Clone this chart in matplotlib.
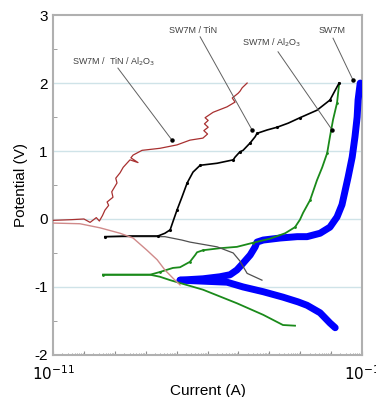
import numpy as np
import matplotlib
matplotlib.use('Agg')
import matplotlib.pyplot as plt
from matplotlib.ticker import LogLocator, NullFormatter, FixedLocator

plt.rcParams['font.family'] = ['Liberation Sans', 'DejaVu Sans']
plt.rcParams['axes.unicode_minus'] = False

# Polarisation curves, current given as log10(I / A), potential in V

# SW7M / TiN / Al2O3 (red)
red_cat_logI = [-11.0, -10.13, -9.48, -8.83, -8.41, -7.96, -7.63, -7.38, -7.12, -6.89]
red_cat_E = [-0.06, -0.07, -0.13, -0.21, -0.28, -0.46, -0.60, -0.75, -0.87, -0.97]
red_an_logI = [-11.0, -10.4, -10.0, -9.8, -9.6, -9.5, -9.4, -9.32, -9.2, -9.25, -9.06, -9.1,
               -8.93, -8.97, -8.83, -8.73, -8.57, -8.51, -8.25, -8.48, -8.41, -8.12, -7.54,
               -6.99, -6.57, -6.15, -6.0, -6.12, -5.98, -6.1, -5.98, -6.08, -5.82, -5.37,
               -5.11, -5.2, -5.01, -4.95, -4.88, -4.72]
red_an_E = [-0.02, -0.01, 0.0, -0.05, 0.02, -0.03, 0.05, 0.13, 0.2, 0.25, 0.32, 0.4,
            0.53, 0.6, 0.68, 0.76, 0.84, 0.87, 0.83, 0.9, 0.94, 1.01, 1.04,
            1.09, 1.16, 1.19, 1.25, 1.3, 1.35, 1.4, 1.45, 1.49, 1.57, 1.65,
            1.72, 1.78, 1.85, 1.88, 1.93, 2.0]

# SW7M / TiN (black)
blk_cat_logI = [-9.32, -8.5, -7.38, -6.83, -6.57, -5.69, -5.17, -4.95, -4.72, -4.24]
blk_cat_E = [-0.26, -0.26, -0.26, -0.31, -0.34, -0.41, -0.50, -0.62, -0.80, -0.90]
blk_an_logI = [-9.32, -8.5, -7.6, -7.38, -7.21, -7.12, -6.99, -6.83, -6.66, -6.47, -6.24,
               -5.69, -5.17, -5.11, -4.95, -4.85, -4.62, -4.46, -4.40, -4.07, -3.75,
               -3.39, -3.01, -2.46, -2.04, -1.78, -1.74]
blk_an_E = [-0.26, -0.25, -0.25, -0.21, -0.16, -0.04, 0.13, 0.32, 0.53, 0.69, 0.79,
            0.82, 0.87, 0.91, 0.99, 1.01, 1.12, 1.21, 1.26, 1.31, 1.35,
            1.41, 1.49, 1.60, 1.75, 1.97, 2.0]

# SW7M / Al2O3 (green)
grn_cat_logI = [-9.38, -8.5, -7.86, -7.54, -7.21, -6.15, -5.05, -4.20, -3.56, -3.17]
grn_cat_E = [-0.82, -0.82, -0.82, -0.85, -0.90, -1.04, -1.24, -1.41, -1.56, -1.57]
grn_an_logI = [-9.38, -8.5, -7.86, -7.54, -7.12, -6.89, -6.57, -6.40, -6.34, -6.15, -5.60,
               -5.05, -4.53, -3.98, -3.49, -3.17, -3.01, -2.91, -2.68, -2.46, -2.29,
               -2.13, -2.04, -1.94, -1.81, -1.74]
grn_an_E = [-0.82, -0.82, -0.82, -0.78, -0.72, -0.71, -0.63, -0.53, -0.49, -0.46, -0.43,
            -0.41, -0.35, -0.29, -0.21, -0.12, -0.01, 0.09, 0.28, 0.57, 0.76,
            0.97, 1.21, 1.46, 1.71, 2.0]

# SW7M (blue)
blu_cat_logI = [-6.89, -5.37, -4.85, -4.20, -3.56, -3.07, -2.78, -2.36, -2.04, -1.87]
blu_cat_E = [-0.90, -0.93, -1.00, -1.07, -1.15, -1.22, -1.27, -1.38, -1.53, -1.60]
blu_an_logI = [-6.89, -6.15, -5.60, -5.27, -5.05, -4.85, -4.62, -4.46, -4.40, -4.20, -3.65,
               -3.10, -2.78, -2.36, -2.04, -1.81, -1.65, -1.45, -1.32, -1.23, -1.16,
               -1.13, -1.06]
blu_an_E = [-0.90, -0.88, -0.85, -0.82, -0.75, -0.65, -0.53, -0.41, -0.34, -0.31, -0.28,
            -0.26, -0.26, -0.21, -0.12, 0.03, 0.21, 0.62, 0.91, 1.21, 1.50,
            1.75, 2.0]

# labels: text, text position (logI, E), arrow start and tip (logI, E)
labels = ['SW7M /  TiN / Al$_2$O$_3$', 'SW7M / TiN', 'SW7M / Al$_2$O$_3$', 'SW7M']
label_xy = [(-9.03, 2.31), (-6.47, 2.78), (-3.91, 2.59), (-1.97, 2.78)]
label_start = [(-8.90, 2.22), (-6.24, 2.68), (-3.72, 2.46), (-1.94, 2.66)]
label_tip = [(-7.15, 1.16), (-4.56, 1.31), (-1.97, 1.31), (-1.29, 2.04)]

fig = plt.figure(figsize=(3.76, 3.97), dpi=100)
ax = fig.add_axes([0.141, 0.106, 0.822, 0.856])

def I(v):
    return 10.0 ** np.array(v)

ax.plot(I(blu_an_logI), blu_an_E, color='#0000ff', lw=5, solid_capstyle='round', zorder=3)
ax.plot(I(blu_cat_logI), blu_cat_E, color='#0000ff', lw=5, solid_capstyle='round', zorder=3)
ax.plot(I(grn_an_logI), grn_an_E, color='#1a8a1a', lw=1.3, marker='.', ms=2, markevery=3, zorder=4)
ax.plot(I(grn_cat_logI), grn_cat_E, color='#1a8a1a', lw=1.3, zorder=4)
ax.plot(I(blk_cat_logI), blk_cat_E, color='#505050', lw=0.9, zorder=4)
ax.plot(I(blk_an_logI), blk_an_E, color='black', lw=1.2, marker='.', ms=2.5, markevery=2, zorder=5)
ax.plot(I(red_cat_logI), red_cat_E, color='#d08a8a', lw=1.0, zorder=5)
ax.plot(I(red_an_logI), red_an_E, color='#a83030', lw=0.9, zorder=5)

for txt, (tx, ty), (sx, sy), (ex, ey) in zip(labels, label_xy, label_start, label_tip):
    ax.text(10 ** tx, ty, txt, fontsize=6.5, color='#404040', ha='center', va='center')
    ax.plot([10 ** sx, 10 ** ex], [sy, ey], color='#606060', lw=0.7, zorder=6)
    ax.plot(10 ** ex, ey, 'o', color='black', ms=2.2, zorder=6)

ax.set_xscale('log')
ax.set_xlim(1e-11, 1e-1)
ax.set_ylim(-2, 3)
ax.set_yticks([-2, -1, 0, 1, 2, 3])
ax.yaxis.set_minor_locator(FixedLocator([-1.5, -0.5, 0.5, 1.5, 2.5]))
ax.xaxis.set_major_locator(FixedLocator([10.0 ** k for k in range(-11, 0)]))
ax.xaxis.set_minor_locator(LogLocator(base=10, subs=np.arange(2, 10), numticks=20))
ax.xaxis.set_minor_formatter(NullFormatter())
ax.set_xticklabels(['$10^{-11}$'] + [''] * 9 + ['$10^{-1}$'])

for y in [-1, 0, 1, 2]:
    ax.axhline(y, color='#cfe3e8', lw=1.0, zorder=1)

for s in ax.spines.values():
    s.set_color('#b0b0b0')
    s.set_linewidth(1.5)
ax.tick_params(which='both', direction='in', color='#909090', labelsize=11)
ax.tick_params(axis='y', which='major', length=0, pad=4)
ax.tick_params(axis='y', which='minor', length=3)
ax.tick_params(axis='x', which='major', length=3, pad=7)
ax.tick_params(axis='x', which='minor', length=1.5)

ax.set_xlabel('Current (A)', fontsize=11, labelpad=0)
ax.set_ylabel('Potential (V)', fontsize=11, labelpad=4)
ax.xaxis.set_label_coords(0.5, -0.085)

fig.savefig('out.png', dpi=100)
